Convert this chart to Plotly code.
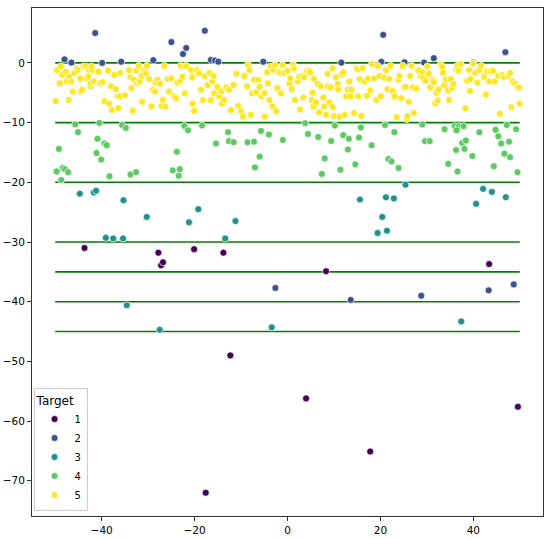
import plotly.graph_objects as go

# ---- data ----
t1_x = [-43.7, -27.8, -27.2, -26.8, -20.1, -13.8, 43.4, 8.3, 4.0, 17.8, 49.6, -12.3, -17.6]
t1_y = [-31.0, -31.8, -33.9, -33.4, -31.2, -31.8, -33.7, -34.9, -56.2, -65.1, -57.6, -49.0, -72.0]

t2_x = [-48.0, -46.5, -41.4, -39.9, -35.8, -28.9, -25.0, -21.8, -22.5, -17.8, -16.5, -15.6, -14.9,
        -5.2, 20.6, 11.6, 20.2, 25.2, 29.4, 31.5, 40.0, 46.9, -2.6, 13.6, 28.8, 43.3, 48.7]
t2_y = [0.6, 0.05, 5.0, 0.0, 0.2, 0.45, 3.5, 2.5, 1.5, 5.4, 0.5, 0.4, 0.2,
        0.2, 4.7, 0.05, 0.2, 0.1, 0.05, 0.8, 0.05, 1.8, -37.7, -39.7, -39.0, -38.1, -37.1]

t3_x = [-44.7, -41.7, -41.2, -35.3, -39.1, -37.5, -35.4, -30.3, -21.2, -19.2, -13.4, -11.2,
        15.6, 21.2, 22.9, 20.4, 19.4, 21.4, 25.4, 42.1, 44.0, 40.6, 47.0,
        -34.6, -27.5, -3.4, 37.4]
t3_y = [-21.9, -21.7, -21.4, -23.0, -29.3, -29.4, -29.4, -25.8, -26.7, -24.5, -29.4, -26.5,
        -22.9, -22.5, -22.7, -25.8, -28.5, -28.1, -20.4, -21.1, -21.6, -23.6, -22.5,
        -40.6, -44.7, -44.3, -43.3]

t4_x = [-45.7, -45.1, -40.5, -40.9, -39.4, -38.9, -41.1, -40.1, -49.2, -49.7, -48.4, -47.9, -47.2,
        -48.7, -38.3, -35.6, -34.8, -33.8, -32.6, -22.2, -21.4, -18.4, -23.8, -24.7, -23.2, -23.4,
        -12.8, -15.4, -12.6, -11.6, -8.6, -7.2, -5.7, -4.0, -6.0, -7.0, -1.0,
        3.8, 4.4, 6.6, 9.4, 10.2, 12.0, 13.2, 13.0, 15.4, 15.8, 18.1, 8.0, 7.4, 11.4, 14.6,
        21.0, 23.0, 21.7, 22.4, 23.9, 29.0, 29.6, 30.6, 33.8, 36.0, 36.9, 37.9, 36.4, 37.6, 38.4,
        38.1, 36.3, 39.8, 34.6, 36.6, 41.3, 44.8, 45.4, 46.0, 47.7, 47.2, 49.2, 46.7, 47.9, 44.4, 49.5]
t4_y = [-10.3, -11.6, -10.05, -12.7, -13.5, -13.8, -15.1, -16.2, -14.4, -18.2, -17.6, -17.8, -18.3,
        -19.6, -19.0, -10.4, -10.9, -18.7, -18.3, -10.55, -11.3, -10.5, -14.9, -18.0, -17.8, -18.9,
        -11.6, -13.5, -13.1, -13.3, -13.3, -13.2, -11.4, -12.0, -15.7, -17.5, -12.9,
        -10.1, -11.9, -12.4, -13.1, -10.5, -12.1, -12.7, -14.5, -12.5, -10.8, -13.8, -16.0, -18.6, -17.9, -17.0,
        -10.4, -11.6, -16.1, -16.5, -17.6, -10.3, -13.1, -13.1, -11.1, -10.6, -10.6, -10.6, -11.3, -13.4, -13.0,
        -14.4, -14.6, -15.6, -16.9, -18.2, -11.6, -11.2, -12.3, -13.5, -13.2, -10.4, -11.1, -15.2, -15.8, -17.3, -18.3]

t5_x = [-49.9, -49.6, -49.0, -48.8, -48.5, -47.7, -47.5, -47.0, -47.1, -46.6, -46.2, -45.9, -45.4, -45.2,
        -44.6, -44.5, -44.2, -43.9, -43.4, -43.2, -42.9, -42.7, -42.4, -42.4, -42.0, -41.7, -42.2, -40.7,
        -40.3, -39.8, -39.4, -38.6, -38.4, -38.0, -37.8, -37.3, -37.0, -36.6, -36.4, -36.1, -36.0, -35.0,
        -34.1, -33.8, -33.6, -33.3, -33.0, -32.6, -32.4, -32.0, -31.8, -31.4, -31.3, -30.8, -30.5, -30.3,
        -29.8, -29.3, -29.0, -28.5, -28.4, -28.0, -27.4, -27.1, -26.8, -26.5, -26.3, -25.8, -25.5, -25.0,
        -24.4, -24.0, -23.7, -23.1, -23.0, -22.6, -22.2, -22.1, -21.8, -20.8, -20.5, -20.4, -20.1, -19.5,
        -19.1, -18.6, -18.2, -17.8, -17.2, -16.8, -16.5, -16.2, -15.9, -15.8, -15.1, -14.7, -14.3, -14.1,
        -13.6, -13.2, -12.6, -12.2, -11.6, -11.0, -10.6, -10.0, -9.6, -9.3, -8.7, -8.5, -8.2, -7.9, -7.6,
        -7.2, -6.7, -6.3, -6.0, -5.6, -5.0, -4.9, -4.4, -4.2, -3.9, -3.6, -3.2, -2.7, -2.4, -2.0, -1.4,
        -3.0, -2.7, -2.2, -2.0, -1.4, -1.1, -0.7, 0.0, 0.4, 0.6, 0.9, 1.2, 1.4, 1.6, 2.2, 2.5, 2.7, 3.2,
        3.4, 3.6, 4.2, 4.7, 4.9, 5.2, 5.4, 5.6, 5.7, 6.1, 6.5, 6.8, 7.2, 7.7, 7.9, 8.3, 8.6, 8.7, 9.0,
        9.3, 9.7, 9.7, 10.0, 10.4, 10.8, 10.9, 11.2, 11.6, 12.0, 12.3, 12.6, 13.0, 13.3, 13.6, 13.8, 14.3,
        14.8, 15.1, 15.2, 15.5, 15.9, 16.2, 16.6, 17.1, 17.3, 17.8, 18.2, 18.6, 19.1, 19.4, 19.8, 20.1,
        20.8, 21.2, 21.5, 21.9, 22.2, 22.7, 23.1, 23.5, 23.9, 24.1, 24.5, 24.8, 25.1, 25.4, 25.7, 25.8,
        26.1, 26.4, 26.7, 27.0, 27.2, 27.7, 28.0, 28.3, 28.7, 29.0, 29.2, 29.7, 30.1, 30.4, 30.7, 31.3,
        31.5, 31.8, 32.0, 32.3, 32.5, 33.0, 33.3, 33.5, 33.7, 34.1, 34.6, 34.8, 35.1, 35.4, 35.7, 36.3,
        36.6, 36.8, 37.3, 38.3, 38.7, 39.1, 39.3, 39.4, 40.0, 40.4, 40.9, 41.3, 41.7, 42.3, 42.7, 43.0,
        43.4, 43.7, 44.2, 44.6, 45.2, 45.4, 45.7, 46.2, 46.6, 47.5, 47.9, 48.2, 48.5, 49.0, 49.5, 49.9, 50.0]
t5_y = [-6.4, -1.2, -3.4, -0.6, -2.0, -1.5, -3.1, -2.3, -6.2, -3.1, -4.8, -1.7, -0.9, -1.2,
        -2.6, -4.8, -4.5, -0.6, -0.6, -2.6, -2.3, -1.2, -3.9, -3.4, -1.2, -3.1, -0.6, -1.5,
        -3.4, -3.2, -6.4, -1.3, -6.8, -3.9, -7.9, -2.0, -4.4, -5.6, -7.6, -5.6, -1.7, -5.4,
        -1.2, -2.4, -4.2, -8.0, -2.8, -1.3, -3.4, -0.5, -3.1, -2.2, -6.5, -1.3, -1.8, -0.5,
        -2.7, -7.3, -4.5, -4.8, -3.3, -2.8, -3.5, -7.2, -6.2, -0.5, -7.3, -2.7, -4.8, -2.6,
        -5.6, -5.9, -3.3, -3.0, -0.5, -2.3, -0.6, -5.1, -0.5, -1.2, -2.4, -6.8, -8.0, -1.2,
        -1.7, -4.5, -6.2, -2.2, -3.7, -1.7, -6.2, -3.1, -2.2, -5.1, -4.0, -5.6, -4.8, -6.8,
        -6.2, -4.1, -4.5, -7.9, -3.7, -1.8, -7.2, -8.1, -9.0, -2.2, -3.9, -0.3, -1.2, -8.7, -5.1,
        -2.8, -4.9, -2.8, -4.0, -5.6, -5.1, -9.0, -1.6, -3.4, -6.2, -0.6, -7.3, -1.2, -8.1, -4.2, -5.1,
        -1.2, -0.4, -4.2, -1.5, -1.7, -0.4, -1.7, -1.3, -3.4, -2.6, -4.4, -0.3, -0.9, -6.2, -3.1, -2.3, -7.8, -2.2,
        -5.8, -2.4, -1.3, -1.3, -1.6, -6.2, -5.0, -7.3, -2.7, -6.6, -3.5, -8.3, -3.9, -5.8, -7.3, -8.7, -1.8, -3.9, -6.6,
        -4.1, -7.4, -0.9, -8.9, -2.4, -3.5, -4.4, -9.0, -2.0, -1.6, -8.7, -5.6, -4.5, -3.1, -5.6, -4.5, -8.4,
        -0.9, -1.1, -5.6, -2.7, -8.9, -0.9, -3.1, -5.5, -2.6, -4.6, -0.2, -2.6, -6.2, -0.5, -2.2, -5.6,
        -2.5, -1.2, -4.4, -2.7, -0.5, -4.7, -5.6, -9.1, -2.8, -2.2, -5.9, -0.5, -4.1, -4.0, -9.4, -8.9,
        -6.5, -2.2, -0.5, -4.1, -8.4, -4.3, -1.2, -1.3, -2.2, -1.6, -2.6, -3.0, -0.6, -1.8, -4.1, -2.8,
        -3.2, -6.8, -5.0, -6.3, -4.5, -0.3, -0.7, -1.7, -3.7, -2.8, -4.6, -6.2, -2.7, -4.2, -3.5, -1.1,
        -0.5, -1.3, -0.2, -7.6, -3.0, -1.2, -4.7, -2.7, -0.1, -1.7, -3.3, -1.2, -0.5, -2.3, -5.3, -1.4,
        -3.1, -1.4, -1.3, -3.1, -2.1, -2.2, -8.5, -2.0, -2.4, -2.2, -1.7, -7.4, -3.1, -3.5, -4.1, -4.1, -6.8]

line_levels = [0, -10, -20, -30, -35, -40, -45]
line_x_range = [-50, 50]

targets = ["1", "2", "3", "4", "5"]
colors = ["#440154", "#3b528b", "#21918c", "#5ec962", "#fde725"]
series_x = [t1_x, t2_x, t3_x, t4_x, t5_x]
series_y = [t1_y, t2_y, t3_y, t4_y, t5_y]

fig = go.Figure()

for lv in line_levels:
    fig.add_trace(go.Scatter(x=line_x_range, y=[lv, lv], mode="lines",
                             line=dict(color="#008000", width=1.6),
                             showlegend=False, hoverinfo="skip"))

for name, col, xs, ys in zip(targets, colors, series_x, series_y):
    fig.add_trace(go.Scatter(x=xs, y=ys, mode="markers", name=name,
                             marker=dict(color=col, size=7,
                                         line=dict(color="white", width=0.7))))

axis_common = dict(showline=True, linecolor="#333333", linewidth=1, mirror=True,
                   ticks="outside", ticklen=4, tickcolor="#333333", showgrid=False,
                   zeroline=False, automargin=False,
                   tickfont=dict(size=10.5, color="black"))

fig.update_layout(
    width=550, height=539,
    margin=dict(l=32, r=7, t=8, b=23),
    plot_bgcolor="white", paper_bgcolor="white",
    font=dict(family="DejaVu Sans", size=10, color="black"),
    xaxis=dict(range=[-55, 55], tickvals=[-40, -20, 0, 20, 40], **axis_common),
    yaxis=dict(range=[-75.9, 9.2], tickvals=[0, -10, -20, -30, -40, -50, -60, -70], **axis_common),
    legend=dict(title=dict(text="Target", side="top"), x=0.003, y=0.01,
                xanchor="left", yanchor="bottom", bgcolor="rgba(255,255,255,0.8)",
                bordercolor="#cccccc", borderwidth=1, font=dict(size=10),
                itemwidth=30, tracegroupgap=0),
)

fig.write_html("out.html",
               config={"displayModeBar": False},
               post_script="document.body.style.margin='0';document.body.style.overflow='hidden';")
